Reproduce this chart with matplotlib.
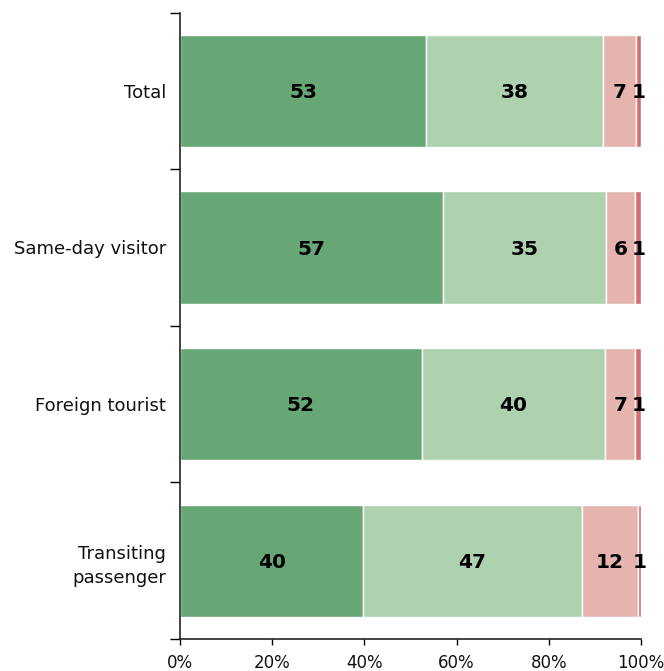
import matplotlib
matplotlib.use("Agg")
import matplotlib.pyplot as plt
import numpy as np

categories = ["Total", "Same-day visitor", "Foreign tourist", "Transiting\npassenger"]
very_satisfied = [53.4, 57.0, 52.4, 39.8]
satisfied = [38.4, 35.4, 39.8, 47.3]
dissatisfied = [7.1, 6.4, 6.6, 12.2]
very_dissatisfied = [1.1, 1.2, 1.2, 0.7]
labels = [
    ["53", "57", "52", "40"],
    ["38", "35", "40", "47"],
    ["7", "6", "7", "12"],
    ["1", "1", "1", "1"],
]
colors = ["#67a776", "#aed1b0", "#e6b4af", "#d3706e"]
xticks = [0, 20, 40, 60, 80, 100]

plt.rcParams['font.family'] = ['DejaVu Sans']
fig = plt.figure(figsize=(6.64, 6.71), dpi=100)
ax = fig.add_axes([180/664, 1-639/671, (641-180)/664, (639-12.5)/671])

series = [very_satisfied, satisfied, dissatisfied, very_dissatisfied]
y = np.arange(len(categories))
left = np.zeros(len(categories))
for vals, col, labs in zip(series, colors, labels):
    vals = np.array(vals)
    ax.barh(y, vals, left=left, height=0.716, color=col, edgecolor="white", linewidth=1)
    for yi, (l, v, t) in enumerate(zip(left, vals, labs)):
        ax.text(l + v/2, yi + 0.01, t, ha="center", va="center", fontsize=14.5,
                fontweight="bold", color="black")
    left += vals

ax.set_ylim(3.5, -0.5)
ax.set_xlim(0, 100)
ax.set_yticks(np.arange(-0.5, len(categories), 1.0))
ax.set_yticklabels([])
ax.set_yticks(y, minor=True)
ax.set_yticklabels(categories, minor=True, fontsize=13, color="#111111", linespacing=1.45)
ax.tick_params(axis="y", which="minor", length=0, pad=10)
ax.tick_params(axis="y", which="major", length=7, width=1)
ax.set_xticks(xticks)
ax.set_xticklabels([f"{t}%" for t in xticks], fontsize=12, color="#111111")
ax.tick_params(axis="x", length=4, width=1, pad=7)
ax.spines["top"].set_visible(False)
ax.spines["right"].set_visible(False)
for s in ["left", "bottom"]:
    ax.spines[s].set_color("#222222")
    ax.spines[s].set_linewidth(1.2)

fig.savefig("out.png", dpi=100)
